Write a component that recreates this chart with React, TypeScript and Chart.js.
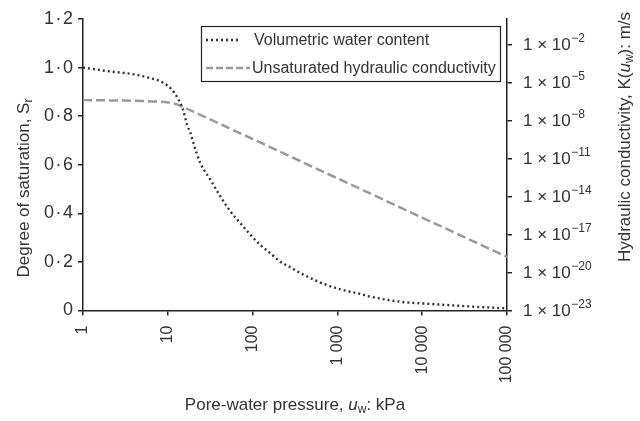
import React, { useEffect, useRef } from 'react';
import { Chart, registerables } from 'chart.js';

Chart.register(...registerables);

// Degree of saturation curve (volumetric water content), left axis
const satPressure = [1, 2, 4, 6, 8, 10, 12, 14, 15, 16, 17, 18.4, 20, 24.2, 31.7, 41.6, 54.6, 71.6, 94, 123, 162, 212, 279, 366, 630, 1084, 1866, 2449, 5534, 12500, 28250, 63700, 100000];
const saturation = [1.0, 0.985, 0.972, 0.958, 0.945, 0.925, 0.895, 0.855, 0.83, 0.795, 0.76, 0.734, 0.69, 0.607, 0.539, 0.47, 0.408, 0.36, 0.312, 0.27, 0.236, 0.201, 0.178, 0.154, 0.115, 0.087, 0.068, 0.057, 0.036, 0.027, 0.019, 0.012, 0.009];

// Unsaturated hydraulic conductivity, right axis (m/s)
const condPressure = [1, 2, 5, 8, 10, 12, 14, 16, 20, 30, 50, 100, 200, 500, 1000, 2000, 5000, 10000, 20000, 50000, 100000];
const conductivity = [4.0e-7, 3.8e-7, 3.4e-7, 2.95e-7, 2.6e-7, 2.1e-7, 1.45e-7, 9.5e-8, 5.0e-8, 1.4e-8, 2.9e-9, 3.4e-10, 4.0e-11, 2.3e-12, 2.7e-13, 3.2e-14, 1.8e-15, 2.1e-16, 2.5e-17, 1.45e-18, 1.7e-19];

const xTickValues = [1, 10, 100, 1000, 10000, 100000];
const xTickLabels = ['1', '10', '100', '1 000', '10 000', '100 000'];
const leftTickValues = [0, 0.2, 0.4, 0.6, 0.8, 1.0, 1.2];
const rightExponents = [-23, -20, -17, -14, -11, -8, -5, -2];

const legendLabels = ['Volumetric water content', 'Unsaturated hydraulic conductivity'];

const FONT = '"Liberation Sans", Arial, sans-serif';
const TEXT = '#333';
const AXIS = '#222';

type Part = { t: string; size: number; italic?: boolean; dy?: number };

function drawParts(ctx: CanvasRenderingContext2D, parts: Part[], cx: number, cy: number, rot: number) {
  ctx.save();
  ctx.translate(cx, cy);
  ctx.rotate(rot);
  ctx.fillStyle = TEXT;
  ctx.textBaseline = 'middle';
  ctx.textAlign = 'left';
  let total = 0;
  const widths = parts.map((p) => {
    ctx.font = `${p.italic ? 'italic ' : ''}${p.size}px ${FONT}`;
    const w = ctx.measureText(p.t).width;
    total += w;
    return w;
  });
  let x = -total / 2;
  parts.forEach((p, i) => {
    ctx.font = `${p.italic ? 'italic ' : ''}${p.size}px ${FONT}`;
    ctx.fillText(p.t, x, p.dy || 0);
    x += widths[i];
  });
  ctx.restore();
}

const customDraw = {
  id: 'customDraw',
  afterDraw(chart: any) {
    const ctx: CanvasRenderingContext2D = chart.ctx;
    const yR = chart.scales.yR;
    const area = chart.chartArea;

    // right tick labels with superscripts
    ctx.save();
    ctx.fillStyle = TEXT;
    ctx.textBaseline = 'middle';
    ctx.textAlign = 'left';
    rightExponents.forEach((e) => {
      const y = yR.getPixelForValue(Math.pow(10, e));
      const x0 = area.right + 16;
      ctx.font = `17px ${FONT}`;
      const main = '1 \u00d7 10';
      ctx.fillText(main, x0, y + 1);
      const w = ctx.measureText(main).width;
      ctx.font = `12px ${FONT}`;
      ctx.fillText('\u2212' + Math.abs(e), x0 + w + 0.5, y - 6);
    });
    ctx.restore();

    // axis titles
    drawParts(ctx, [
      { t: 'Degree of saturation, S', size: 17 },
      { t: 'r', size: 12, dy: 5 },
    ], 24, 188, -Math.PI / 2);

    drawParts(ctx, [
      { t: 'Hydraulic conductivity, K(', size: 17 },
      { t: 'u', size: 17, italic: true },
      { t: 'w', size: 12, dy: 5 },
      { t: '): m/s', size: 17 },
    ], 625, 137, -Math.PI / 2);

    drawParts(ctx, [
      { t: 'Pore-water pressure, ', size: 17 },
      { t: 'u', size: 17, italic: true },
      { t: 'w', size: 12, dy: 5 },
      { t: ': kPa', size: 17 },
    ], (area.left + area.right) / 2, 405, 0);

    // legend
    ctx.save();
    ctx.strokeStyle = AXIS;
    ctx.lineWidth = 1.2;
    ctx.strokeRect(201.5, 26.5, 299, 55);
    ctx.lineWidth = 2.4;
    ctx.strokeStyle = '#333';
    ctx.setLineDash([2, 3]);
    ctx.beginPath();
    ctx.moveTo(206, 40);
    ctx.lineTo(241, 40);
    ctx.stroke();
    ctx.strokeStyle = '#9a9a9a';
    ctx.lineWidth = 2.5;
    ctx.setLineDash([7, 3]);
    ctx.beginPath();
    ctx.moveTo(206, 68);
    ctx.lineTo(250, 68);
    ctx.stroke();
    ctx.setLineDash([]);
    ctx.fillStyle = TEXT;
    ctx.font = `16px ${FONT}`;
    ctx.textBaseline = 'middle';
    ctx.textAlign = 'left';
    ctx.fillText(legendLabels[0], 254, 41);
    ctx.fillText(legendLabels[1], 252, 69);
    ctx.restore();
  },
};

export default function App() {
  const ref = useRef<HTMLCanvasElement | null>(null);

  useEffect(() => {
    if (!ref.current) return;
    const gridCommon = {
      drawOnChartArea: false,
      drawTicks: true,
      tickLength: 5,
      color: AXIS,
      lineWidth: 1.5,
    };
    const chart = new Chart(ref.current, {
      type: 'line',
      data: {
        datasets: [
          {
            label: legendLabels[0],
            data: satPressure.map((x, i) => ({ x, y: saturation[i] })),
            yAxisID: 'yL',
            borderColor: '#333',
            borderWidth: 2.4,
            borderDash: [2, 3],
            pointRadius: 0,
            fill: false,
            cubicInterpolationMode: 'monotone',
          },
          {
            label: legendLabels[1],
            data: condPressure.map((x, i) => ({ x, y: conductivity[i] })),
            yAxisID: 'yR',
            borderColor: '#9a9a9a',
            borderWidth: 2.5,
            borderDash: [9, 4],
            pointRadius: 0,
            fill: false,
            cubicInterpolationMode: 'monotone',
          },
        ],
      },
      options: {
        responsive: false,
        animation: false,
        layout: { padding: { top: 19, left: 0, right: 0, bottom: 0 } },
        plugins: { legend: { display: false }, tooltip: { enabled: false } },
        scales: {
          x: {
            type: 'logarithmic',
            min: 1,
            max: 100000,
            afterBuildTicks: (s: any) => {
              s.ticks = xTickValues.map((v) => ({ value: v }));
            },
            afterFit: (s: any) => {
              s.height = 110.5;
            },
            ticks: {
              autoSkip: false,
              maxRotation: 90,
              minRotation: 90,
              padding: 10,
              color: TEXT,
              font: { family: FONT, size: 16 },
              callback: (_v: any, i: number) => xTickLabels[i],
            },
            grid: gridCommon,
            border: { display: true, color: AXIS, width: 1.5 },
          },
          yL: {
            type: 'linear',
            position: 'left',
            min: 0,
            max: 1.2,
            afterBuildTicks: (s: any) => {
              s.ticks = leftTickValues.map((v) => ({ value: v }));
            },
            afterFit: (s: any) => {
              s.width = 83;
            },
            ticks: {
              padding: 5,
              color: TEXT,
              font: { family: FONT, size: 18 },
              callback: (v: any) => (v === 0 ? '0' : Number(v).toFixed(1).replace('.', '\u200a\u00b7\u200a')),
            },
            grid: gridCommon,
            border: { display: true, color: AXIS, width: 1.5 },
          },
          yR: {
            type: 'logarithmic',
            position: 'right',
            min: 1e-23,
            max: 1,
            afterBuildTicks: (s: any) => {
              s.ticks = rightExponents.map((e) => ({ value: Math.pow(10, e) }));
            },
            afterFit: (s: any) => {
              s.width = 133;
            },
            ticks: { display: false },
            grid: gridCommon,
            border: { display: true, color: AXIS, width: 1.5 },
          },
        },
      } as any,
      plugins: [customDraw],
    });
    return () => chart.destroy();
  }, []);

  return (
    <div style={{ position: 'absolute', left: 0, top: 0, width: 640, height: 421, background: '#fff' }}>
      <canvas ref={ref} width={640} height={421} style={{ width: 640, height: 421 }} />
    </div>
  );
}
